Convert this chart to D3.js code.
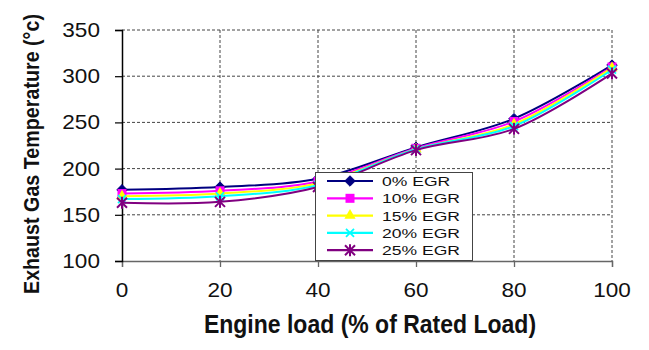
<!DOCTYPE html>
<html><head><meta charset="utf-8">
<script src="https://cdn.jsdelivr.net/npm/d3@7/dist/d3.min.js"></script>
<style>body{margin:0;background:#fff}svg{display:block}text{font-family:Arial,"Liberation Sans",sans-serif;fill:#111}</style>
</head><body><svg id="c" width="649" height="350"></svg>
<script>
const loads = [0, 20, 40, 60, 80, 100];
const egr0  = [177, 180, 189, 223, 254, 312];
const egr10 = [173, 176, 186, 222, 251, 310];
const egr15 = [170, 173, 184, 221, 248, 309];
const egr20 = [167, 170, 182, 221, 246, 307];
const egr25 = [163, 164, 180, 220, 243, 303];
const seriesNames = ["0% EGR", "10% EGR", "15% EGR", "20% EGR", "25% EGR"];
const seriesColors = ["#000080", "#FF00FF", "#FFFF00", "#00FFFF", "#800080"];
const seriesMarkers = ["diamond", "square", "triangle", "x", "star"];
const xTicks = [0, 20, 40, 60, 80, 100];
const yTicks = [100, 150, 200, 250, 300, 350];
const xTitle = "Engine load (% of Rated Load)";
const yTitle = "Exhaust Gas Temperature (°c)";

const seriesValues = [egr0, egr10, egr15, egr20, egr25];
const svg = d3.select("#c");
const x = d3.scaleLinear().domain([0, 100]).range([122, 612]);
const y = d3.scaleLinear().domain([100, 350]).range([261, 30]);

// gridlines
const grid = svg.append("g");
grid.selectAll("line.h").data(yTicks.filter(d => d > 100)).enter().append("line")
  .attr("x1", x(0)).attr("x2", x(100)).attr("y1", d => y(d)).attr("y2", d => y(d))
  .attr("stroke", "#444").attr("stroke-width", 1).attr("stroke-dasharray", "3,2");
grid.selectAll("line.v").data(xTicks.filter(d => d > 0)).enter().append("line")
  .attr("x1", d => x(d)).attr("x2", d => x(d)).attr("y1", y(350)).attr("y2", y(100))
  .attr("stroke", "#444").attr("stroke-width", 1).attr("stroke-dasharray", "3,2");

// axes
const xAxis = svg.append("g").attr("transform", `translate(0,${y(100)})`)
  .call(d3.axisBottom(x).tickValues(xTicks).tickSize(6).tickFormat(""));
xAxis.select(".domain").attr("stroke", "#666").attr("stroke-width", 1.3);
xAxis.selectAll(".tick line").attr("stroke", "#666").attr("stroke-width", 1.3);
const yAxis = svg.append("g").attr("transform", `translate(${x(0)},0)`)
  .call(d3.axisLeft(y).tickValues(yTicks).tickSize(7).tickFormat(""));
yAxis.select(".domain").attr("stroke", "#000").attr("stroke-width", 1.5);
yAxis.selectAll(".tick line").attr("stroke", "#000").attr("stroke-width", 1.2);

// tick labels
svg.append("g").selectAll("text").data(xTicks).enter().append("text")
  .attr("transform", d => `translate(${x(d)},297) scale(1.13,1)`)
  .attr("text-anchor", "middle").attr("font-size", 20).text(d => d);
svg.append("g").selectAll("text").data(yTicks).enter().append("text")
  .attr("transform", d => `translate(100,${y(d) + 7}) scale(1.13,1)`)
  .attr("text-anchor", "end").attr("font-size", 20).text(d => d);

// titles
svg.append("text").attr("transform", "translate(370,333) scale(1,1.13)")
  .attr("text-anchor", "middle").attr("font-size", 23).attr("font-weight", "bold").text(xTitle);
svg.append("text").attr("transform", "translate(39,154) rotate(-90) scale(1,1.12)")
  .attr("text-anchor", "middle").attr("font-size", 19.7).attr("font-weight", "bold").text(yTitle);

function marker(g, type, color, cx, cy) {
  if (type === "diamond") {
    g.append("path").attr("d", d3.symbol(d3.symbolDiamond2, 70)()).attr("transform", `translate(${cx},${cy})`)
      .attr("fill", color).attr("stroke", color);
  } else if (type === "square") {
    g.append("rect").attr("x", cx - 4.5).attr("y", cy - 4.5).attr("width", 9).attr("height", 9).attr("fill", color);
  } else if (type === "triangle") {
    g.append("path").attr("d", d3.symbol(d3.symbolTriangle, 55)()).attr("transform", `translate(${cx},${cy})`)
      .attr("fill", color);
  } else if (type === "x") {
    g.append("path").attr("d", `M${cx-4},${cy-4}L${cx+4},${cy+4}M${cx-4},${cy+4}L${cx+4},${cy-4}`)
      .attr("stroke", color).attr("stroke-width", 1.8).attr("fill", "none");
  } else if (type === "star") {
    g.append("path").attr("d", `M${cx-5},${cy-5}L${cx+5},${cy+5}M${cx-5},${cy+5}L${cx+5},${cy-5}M${cx},${cy-6}L${cx},${cy+6}`)
      .attr("stroke", color).attr("stroke-width", 2).attr("fill", "none");
  }
}

const line = d3.line().x(d => x(d[0])).y(d => y(d[1])).curve(d3.curveCatmullRom.alpha(0.5));
seriesValues.forEach((vals, i) => {
  const pts = loads.map((l, j) => [l, vals[j]]);
  const g = svg.append("g");
  g.append("path").datum(pts).attr("d", line).attr("fill", "none")
    .attr("stroke", seriesColors[i]).attr("stroke-width", 2);
  pts.forEach(p => marker(g, seriesMarkers[i], seriesColors[i], x(p[0]), y(p[1])));
});

// legend
const lg = svg.append("g");
lg.append("rect").attr("x", 315.5).attr("y", 172.5).attr("width", 157).attr("height", 88)
  .attr("fill", "#fff").attr("stroke", "#444").attr("stroke-width", 1);
seriesNames.forEach((n, i) => {
  const cy = 181 + i * 17.3;
  lg.append("line").attr("x1", 327).attr("x2", 373).attr("y1", cy).attr("y2", cy)
    .attr("stroke", seriesColors[i]).attr("stroke-width", 2.2);
  marker(lg, seriesMarkers[i], seriesColors[i], 350, cy);
  lg.append("text").attr("transform", `translate(382,${cy + 5}) scale(1.35,1)`)
    .attr("font-size", 13).text(n);
});
</script></body></html>
